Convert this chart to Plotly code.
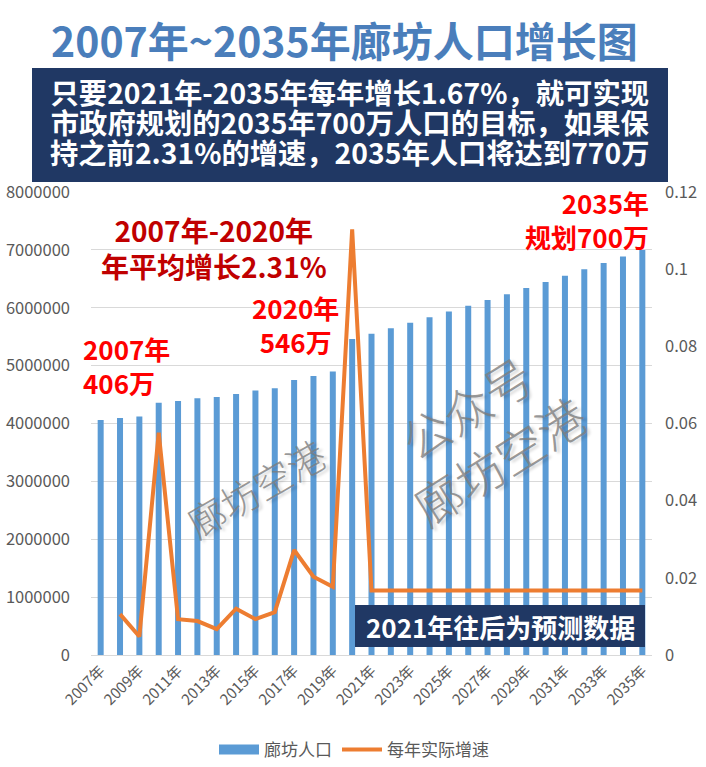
import plotly.graph_objects as go

# ---------------- data ----------------
years = ["2007年", "2008年", "2009年", "2010年", "2011年", "2012年", "2013年", "2014年",
         "2015年", "2016年", "2017年", "2018年", "2019年", "2020年", "2021年", "2022年",
         "2023年", "2024年", "2025年", "2026年", "2027年", "2028年", "2029年", "2030年",
         "2031年", "2032年", "2033年", "2034年", "2035年"]

population = [4060000, 4095000, 4120000, 4360000, 4390000, 4435000, 4460000, 4510000,
              4570000, 4610000, 4750000, 4820000, 4900000, 5460000, 5550000, 5645000,
              5740000, 5835000, 5935000, 6035000, 6135000, 6235000, 6340000, 6445000,
              6555000, 6665000, 6775000, 6885000, 7000000]

growth = [None, 0.0106, 0.0048, 0.0576, 0.0093, 0.0088, 0.0067, 0.0120,
          0.0093, 0.0111, 0.0272, 0.0203, 0.0177, 0.1103, 0.0167, 0.0167,
          0.0167, 0.0167, 0.0167, 0.0167, 0.0167, 0.0167, 0.0167, 0.0167,
          0.0167, 0.0167, 0.0167, 0.0167, 0.0167]

tick_labels = years[::2]

series_names = ["廊坊人口", "每年实际增速"]
title_text = "2007年~2035年廊坊人口增长图"
box_lines = ["只要2021年-2035年每年增长1.67%，就可实现",
             "市政府规划的2035年700万人口的目标，如果保",
             "持之前2.31%的增速，2035年人口将达到770万"]

# ---------------- layout helpers ----------------
W, H = 706, 767
L, R, T, B = 91, 54, 192, 112
PW, PH = W - L - R, H - T - B
FONT = "Noto Sans CJK SC"
BAR_COLOR = "#5B9BD5"
LINE_COLOR = "#ED7D31"
NAVY = "#203864"


def px(x):
    return (x - L) / PW


def py(y):
    return (H - B - y) / PH


fig = go.Figure()
fig.add_trace(go.Bar(x=years, y=population, name=series_names[0], showlegend=False,
                     marker=dict(color=BAR_COLOR, line=dict(width=0))))
# legend swatch for the bars (wide rectangle like the reference)
fig.add_trace(go.Scatter(x=[None], y=[None], name=series_names[0], mode="lines",
                         line=dict(color=BAR_COLOR, width=10), hoverinfo="skip"))
fig.add_trace(go.Scatter(x=years, y=growth, name=series_names[1], yaxis="y2",
                         mode="lines", line=dict(color=LINE_COLOR, width=4)))

annotations = []
shapes = []

# title
annotations.append(dict(text=f"<b>{title_text}</b>", x=px(344), y=py(39),
                        xref="paper", yref="paper", showarrow=False,
                        xanchor="center", yanchor="middle",
                        font=dict(family=FONT, size=41, color="#4A7EBB")))

# dark header box
shapes.append(dict(type="rect", xref="paper", yref="paper",
                   x0=px(32), x1=px(668), y0=py(182), y1=py(68),
                   fillcolor=NAVY, line=dict(width=0), layer="above"))
box_text = "<br>".join(f"<span style='font-size:28.3px'><b>{t}</b></span>" for t in box_lines)
annotations.append(dict(text=box_text, x=px(350), y=py(121),
                        xref="paper", yref="paper", showarrow=False,
                        xanchor="center", yanchor="middle", align="center",
                        font=dict(family=FONT, size=23, color="white")))

# red notes
annotations.append(dict(text="<b>2007年-2020年<br>年平均增长2.31%</b>", x=px(214), y=py(248),
                        xref="paper", yref="paper", showarrow=False,
                        xanchor="center", yanchor="middle", align="center",
                        font=dict(family=FONT, size=28, color="#C00000")))
annotations.append(dict(text="<b>2007年<br>406万</b>", x=px(81), y=py(365),
                        xref="paper", yref="paper", showarrow=False,
                        xanchor="left", yanchor="middle", align="left",
                        font=dict(family=FONT, size=26, color="#FF0000")))
annotations.append(dict(text="<b>2020年<br>546万</b>", x=px(295), y=py(324),
                        xref="paper", yref="paper", showarrow=False,
                        xanchor="center", yanchor="middle", align="center",
                        font=dict(family=FONT, size=26, color="#FF0000")))
annotations.append(dict(text="<b>2035年<br>规划700万</b>", x=px(651), y=py(219),
                        xref="paper", yref="paper", showarrow=False,
                        xanchor="right", yanchor="middle", align="right",
                        font=dict(family=FONT, size=26, color="#FF0000")))

# forecast note box
shapes.append(dict(type="rect", xref="paper", yref="paper",
                   x0=px(355), x1=px(645), y0=py(647), y1=py(605),
                   fillcolor=NAVY, line=dict(width=0), layer="above"))
annotations.append(dict(text="<b>2021年往后为预测数据</b>", x=px(500), y=py(626),
                        xref="paper", yref="paper", showarrow=False,
                        xanchor="center", yanchor="middle",
                        font=dict(family=FONT, size=26, color="white")))

# watermarks
annotations.append(dict(text="廊坊空港", x=px(255), y=py(487),
                        xref="paper", yref="paper", showarrow=False, textangle=-30,
                        xanchor="center", yanchor="middle",
                        font=dict(family=FONT, size=38, color="rgba(125,125,125,0.8)",
                                  weight=300, shadow="2px 3px 3px rgba(0,0,0,0.22)")))
annotations.append(dict(text="公众号<br>廊坊空港", x=px(482), y=py(433),
                        xref="paper", yref="paper", showarrow=False, textangle=-32,
                        xanchor="center", yanchor="middle", align="center",
                        font=dict(family=FONT, size=48, color="rgba(125,125,125,0.8)",
                                  weight=300, shadow="2px 3px 3px rgba(0,0,0,0.22)")))

fig.update_layout(
    width=W, height=H, autosize=False,
    margin=dict(l=L, r=R, t=T, b=B, pad=0, autoexpand=False),
    paper_bgcolor="white", plot_bgcolor="white",
    font=dict(family=FONT, color="#595959"),
    bargap=0.69,
    showlegend=True,
    legend=dict(orientation="h", x=px(354), xanchor="center", y=py(750), yanchor="middle",
                font=dict(family=FONT, size=17, color="#595959"),
                itemwidth=40, traceorder="normal"),
    xaxis=dict(type="category", tickmode="array", tickvals=tick_labels, ticktext=tick_labels,
               tickangle=-45, tickfont=dict(family=FONT, size=15, color="#595959"),
               showgrid=False, showline=True, linecolor="#D9D9D9", linewidth=1,
               ticks="", range=[-0.5, len(years) - 0.5]),
    yaxis=dict(range=[0, 8000000], dtick=1000000, tickformat="d",
               tickfont=dict(family=FONT, size=16.5, color="#595959"),
               showgrid=True, gridcolor="#D9D9D9", gridwidth=1, zeroline=False,
               showline=False, ticks="", ticklabelstandoff=20),
    yaxis2=dict(range=[0, 0.12], dtick=0.02, overlaying="y", side="right",
                tickfont=dict(family=FONT, size=16.5, color="#595959"),
                showgrid=False, zeroline=False, showline=False, ticks="",
                ticklabelstandoff=12),
    annotations=annotations,
    shapes=shapes,
)

fig.write_html("out.html", config={"displayModeBar": False},
               post_script="document.body.style.margin='0';document.body.style.overflow='hidden';")
